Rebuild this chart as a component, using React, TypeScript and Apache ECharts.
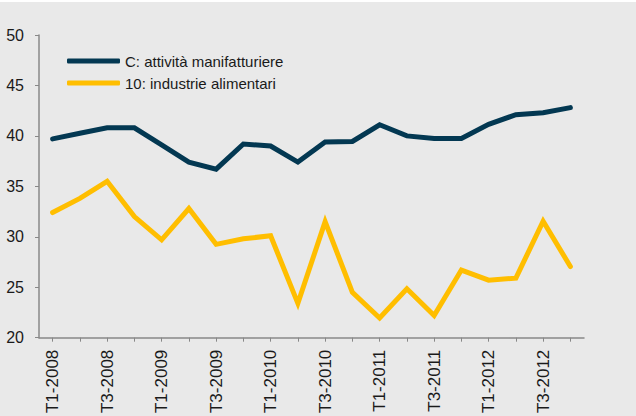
import React, { useEffect, useRef } from "react";
import * as echarts from "echarts";

const categories = [
  "T1-2008", "T2-2008", "T3-2008", "T4-2008",
  "T1-2009", "T2-2009", "T3-2009", "T4-2009",
  "T1-2010", "T2-2010", "T3-2010", "T4-2010",
  "T1-2011", "T2-2011", "T3-2011", "T4-2011",
  "T1-2012", "T2-2012", "T3-2012", "T4-2012",
];

const manifatturiere = [
  39.7, 40.26, 40.8, 40.8, 39.1, 37.4, 36.7, 39.2, 39.0, 37.4,
  39.4, 39.45, 41.1, 40.0, 39.75, 39.75, 41.15, 42.1, 42.3, 42.8,
];

const alimentari = [
  32.4, 33.8, 35.5, 32.0, 29.7, 32.8, 29.25, 29.8, 30.1, 23.4,
  31.5, 24.5, 21.95, 24.85, 22.2, 26.7, 25.7, 25.9, 31.55, 27.05,
];

const seriesNames = ["C: attività manifatturiere", "10: industrie alimentari"];
const yTicks = { min: 20, max: 50, interval: 5 };

const FONT = "'Liberation Sans', Arial, Helvetica, sans-serif";

export default function App() {
  const ref = useRef<HTMLDivElement>(null);

  useEffect(() => {
    if (!ref.current) return;
    const chart = echarts.init(ref.current, null, { renderer: "svg" });
    chart.setOption({
      animation: false,
      backgroundColor: "#e9e9e9",
      textStyle: { fontFamily: FONT },
      graphic: [
        {
          type: "rect",
          left: 0,
          top: 0,
          shape: { width: 636, height: 2 },
          style: { fill: "#ffffff" },
          silent: true,
        },
      ],
      grid: { left: 39, right: 52, top: 35, bottom: 78, containLabel: false },
      legend: {
        left: 67,
        top: 53,
        padding: 0,
        orient: "vertical",
        itemGap: 6,
        itemWidth: 53,
        itemHeight: 5,
        itemTextGap: 3,
        icon: "roundRect",
        textStyle: { fontSize: 15, color: "#1a1a1a", fontFamily: FONT, lineHeight: 16 },
        data: seriesNames,
      },
      xAxis: {
        type: "category",
        data: categories,
        boundaryGap: true,
        axisLine: { show: true, lineStyle: { color: "#888888", width: 1.5 } },
        axisTick: {
          show: true,
          alignWithLabel: true,
          interval: 0,
          length: 4,
          lineStyle: { color: "#888888", width: 1 },
        },
        axisLabel: {
          interval: 1,
          rotate: 90,
          margin: 12,
          fontSize: 17,
          color: "#1a1a1a",
          fontFamily: FONT,
        },
        splitLine: { show: false },
      },
      yAxis: {
        type: "value",
        min: yTicks.min,
        max: yTicks.max,
        interval: yTicks.interval,
        axisLine: { show: true, lineStyle: { color: "#888888", width: 1.5 } },
        axisTick: { show: true, length: 4, lineStyle: { color: "#888888", width: 1 } },
        axisLabel: { margin: 15, fontSize: 16, color: "#1a1a1a", fontFamily: FONT },
        splitLine: { show: false },
      },
      series: [
        {
          name: seriesNames[0],
          type: "line",
          data: manifatturiere,
          symbol: "none",
          color: "#033852",
          lineStyle: { width: 5, color: "#033852", cap: "round", join: "miter" },
        },
        {
          name: seriesNames[1],
          type: "line",
          data: alimentari,
          symbol: "none",
          color: "#ffbe00",
          lineStyle: { width: 5, color: "#ffbe00", cap: "round", join: "miter" },
        },
      ],
    });
    return () => chart.dispose();
  }, []);

  return (
    <div
      ref={ref}
      style={{ position: "absolute", left: 0, top: 0, width: 636, height: 416 }}
    />
  );
}
